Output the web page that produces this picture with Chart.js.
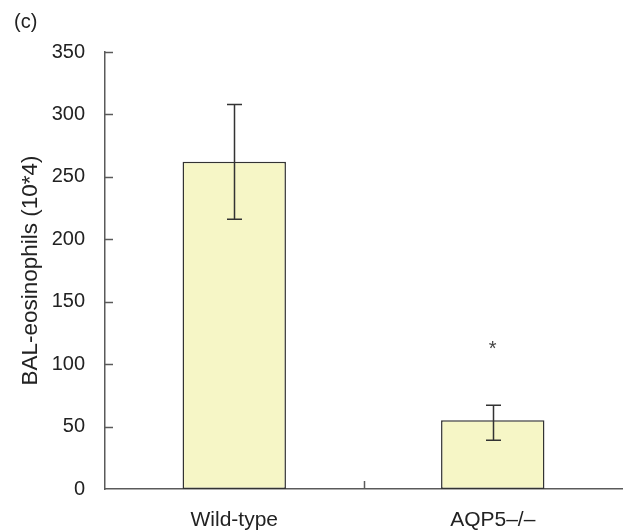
<!DOCTYPE html>
<html>
<head>
<meta charset="utf-8">
<script src="https://cdn.jsdelivr.net/npm/chart.js@4.4.1/dist/chart.umd.min.js"></script>
<style>
  html, body { margin: 0; padding: 0; background: #ffffff; }
  #wrap { width: 624px; height: 530px; position: relative; }
</style>
</head>
<body>
<div id="wrap"><canvas id="c" width="624" height="530"></canvas></div>
<script>
// Groups, means and error bar ends (BAL eosinophils, x10^4)
const groups = ['Wild-type', 'AQP5\u2013/\u2013'];
const means = [262, 55];
const errUpper = [308, 67];
const errLower = [216, 39];
// Significance marker per group (value where it sits, or null)
const marks = [null, '*'];
const markValues = [null, 115];
const yTicks = [0, 50, 100, 150, 200, 250, 300, 350];

const FONT = "'Liberation Sans', Arial, Helvetica, sans-serif";
const INK = '#333333';
const AXIS = '#5a5a5a';

// Panel label, inward tick marks, error bars and the significance marker
const decorations = {
  id: 'decorations',
  afterDatasetsDraw(chart) {
    const ctx = chart.ctx;
    const x = chart.scales.x, y = chart.scales.y;
    const area = chart.chartArea;
    ctx.save();

    // inward tick marks on the value axis
    ctx.strokeStyle = AXIS;
    ctx.lineWidth = 1.5;
    yTicks.forEach(v => {
      const py = Math.round(y.getPixelForValue(v)) + 0.5;
      if (v === 0) return;
      ctx.beginPath();
      ctx.moveTo(area.left, py);
      ctx.lineTo(area.left + 8, py);
      ctx.stroke();
    });
    // tick between the two groups on the category axis
    const mid = (x.getPixelForValue(0) + x.getPixelForValue(1)) / 2;
    ctx.beginPath();
    ctx.moveTo(Math.round(mid) + 0.5, area.bottom);
    ctx.lineTo(Math.round(mid) + 0.5, area.bottom - 8);
    ctx.stroke();

    // error bars
    ctx.strokeStyle = INK;
    ctx.lineWidth = 1.5;
    groups.forEach((g, i) => {
      const px = Math.round(x.getPixelForValue(i)) + 0.5;
      const top = y.getPixelForValue(errUpper[i]);
      const bot = y.getPixelForValue(errLower[i]);
      ctx.beginPath();
      ctx.moveTo(px, top);
      ctx.lineTo(px, bot);
      ctx.moveTo(px - 7.5, top);
      ctx.lineTo(px + 7.5, top);
      ctx.moveTo(px - 7.5, bot);
      ctx.lineTo(px + 7.5, bot);
      ctx.stroke();
    });

    // significance marker
    ctx.fillStyle = '#444444';
    ctx.font = '20px ' + FONT;
    ctx.textAlign = 'center';
    ctx.textBaseline = 'middle';
    marks.forEach((m, i) => {
      if (!m) return;
      ctx.fillText(m, x.getPixelForValue(i), y.getPixelForValue(markValues[i]) + 4);
    });

    // panel label
    ctx.fillStyle = '#222222';
    ctx.font = '20px ' + FONT;
    ctx.textAlign = 'left';
    ctx.textBaseline = 'alphabetic';
    ctx.fillText('(c)', 14, 28);
    ctx.restore();
  }
};

new Chart(document.getElementById('c'), {
  type: 'bar',
  data: {
    labels: groups,
    datasets: [{
      data: means,
      backgroundColor: '#f6f6c6',
      borderColor: INK,
      borderWidth: 1.5,
      borderSkipped: false,
      categoryPercentage: 1,
      barPercentage: 0.4
    }]
  },
  options: {
    responsive: false,
    animation: false,
    devicePixelRatio: 1,
    layout: { padding: { top: 52, right: 2, left: 0, bottom: 0 } },
    plugins: { legend: { display: false }, tooltip: { enabled: false } },
    scales: {
      x: {
        grid: { display: false, drawTicks: false },
        border: { display: true, color: AXIS, width: 1.5 },
        ticks: { color: '#222222', font: { family: FONT, size: 21 }, padding: 19 },
        afterFit(s) { s.height = 41; }
      },
      y: {
        min: 0, max: 350,
        afterBuildTicks(s) { s.ticks = yTicks.map(v => ({ value: v })); },
        grid: { display: false, drawTicks: false },
        border: { display: true, color: AXIS, width: 1.5 },
        ticks: { color: '#222222', font: { family: FONT, size: 20 }, padding: 20 },
        title: {
          display: true,
          text: 'BAL-eosinophils (10*4)',
          color: '#222222',
          font: { family: FONT, size: 22.5 },
          padding: { top: 17, bottom: 0 }
        },
        afterFit(s) { s.width = 105; }
      }
    }
  },
  plugins: [decorations]
});
</script>
</body>
</html>
